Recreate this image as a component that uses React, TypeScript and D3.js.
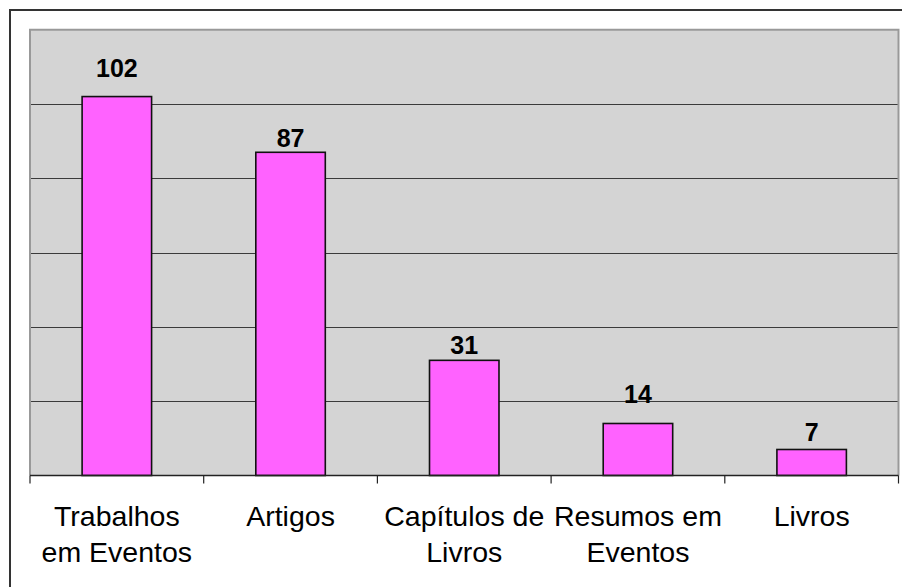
import React from "react";
import * as d3 from "d3";

const categories: string[][] = [
  ["Trabalhos", "em Eventos"],
  ["Artigos"],
  ["Capítulos de", "Livros"],
  ["Resumos em", "Eventos"],
  ["Livros"],
];
const values: number[] = [102, 87, 31, 14, 7];
const yTicks: number[] = [0, 20, 40, 60, 80, 100, 120];
// vertical gap (px) between each value label's baseline and its bar top, as in the original
const labelGaps: number[] = [20, 5, 6, 20, 8];

const W = 902;
const H = 587;
const plot = { left: 30, top: 29.7, right: 898.5, bottom: 475.5 };
const FONT = "'Liberation Sans', Arial, sans-serif";

export default function App() {
  const keys = categories.map((c) => c.join(" "));
  const x = d3.scaleBand<string>().domain(keys).range([plot.left, plot.right]).padding(0);
  const y = d3.scaleLinear().domain([0, 120]).range([plot.bottom, plot.top]);
  const bw = x.bandwidth();
  const barW = bw * 0.4;
  const boundaries = keys.map((k) => x(k) as number).concat([plot.right]);

  return (
    <svg
      width={W}
      height={H}
      style={{ position: "absolute", left: 0, top: 0, background: "#fff" }}
    >
      {/* outer frame */}
      <rect x={10} y={10} width={900} height={600} fill="#fff" stroke="#333" strokeWidth={2} />
      {/* plot background */}
      <rect
        x={plot.left}
        y={plot.top}
        width={plot.right - plot.left}
        height={plot.bottom - plot.top}
        fill="#d4d4d4"
      />
      {/* gridlines */}
      {yTicks
        .filter((t) => t > 0 && t < 120)
        .map((t) => (
          <line
            key={t}
            x1={plot.left}
            x2={plot.right}
            y1={Math.round(y(t)) + 0.5}
            y2={Math.round(y(t)) + 0.5}
            stroke="#3a3a3a"
            strokeWidth={1}
          />
        ))}
      {/* plot border: top, left, right gray */}
      <path
        d={`M${plot.left},${plot.bottom} V${plot.top} H${plot.right} V${plot.bottom}`}
        fill="none"
        stroke="#999"
        strokeWidth={2}
      />
      {/* bars */}
      {values.map((v, i) => {
        const cx = (x(keys[i]) as number) + bw / 2;
        return (
          <rect
            key={keys[i]}
            x={cx - barW / 2}
            y={y(v)}
            width={barW}
            height={y(0) - y(v)}
            fill="#ff62ff"
            stroke="#111"
            strokeWidth={1.6}
          />
        );
      })}
      {/* x axis */}
      <line x1={plot.left} x2={plot.right} y1={plot.bottom} y2={plot.bottom} stroke="#222" strokeWidth={1.5} />
      {boundaries.map((bx, i) => (
        <line key={i} x1={bx} x2={bx} y1={plot.bottom} y2={plot.bottom + 8} stroke="#222" strokeWidth={1.2} />
      ))}
      {/* value labels */}
      {values.map((v, i) => {
        const cx = (x(keys[i]) as number) + bw / 2;
        return (
          <text
            key={"v" + i}
            x={cx}
            y={y(v) - labelGaps[i]}
            textAnchor="middle"
            fontFamily={FONT}
            fontWeight="bold"
            fontSize={25}
            fill="#000"
          >
            {v}
          </text>
        );
      })}
      {/* category labels */}
      {categories.map((lines, i) => {
        const cx = (x(keys[i]) as number) + bw / 2;
        return (
          <text
            key={"c" + i}
            x={cx}
            textAnchor="middle"
            fontFamily={FONT}
            fontSize={28.5}
            fill="#000"
          >
            {lines.map((l, j) => (
              <tspan key={j} x={cx} y={525.5 + j * 36}>
                {l}
              </tspan>
            ))}
          </text>
        );
      })}
    </svg>
  );
}
